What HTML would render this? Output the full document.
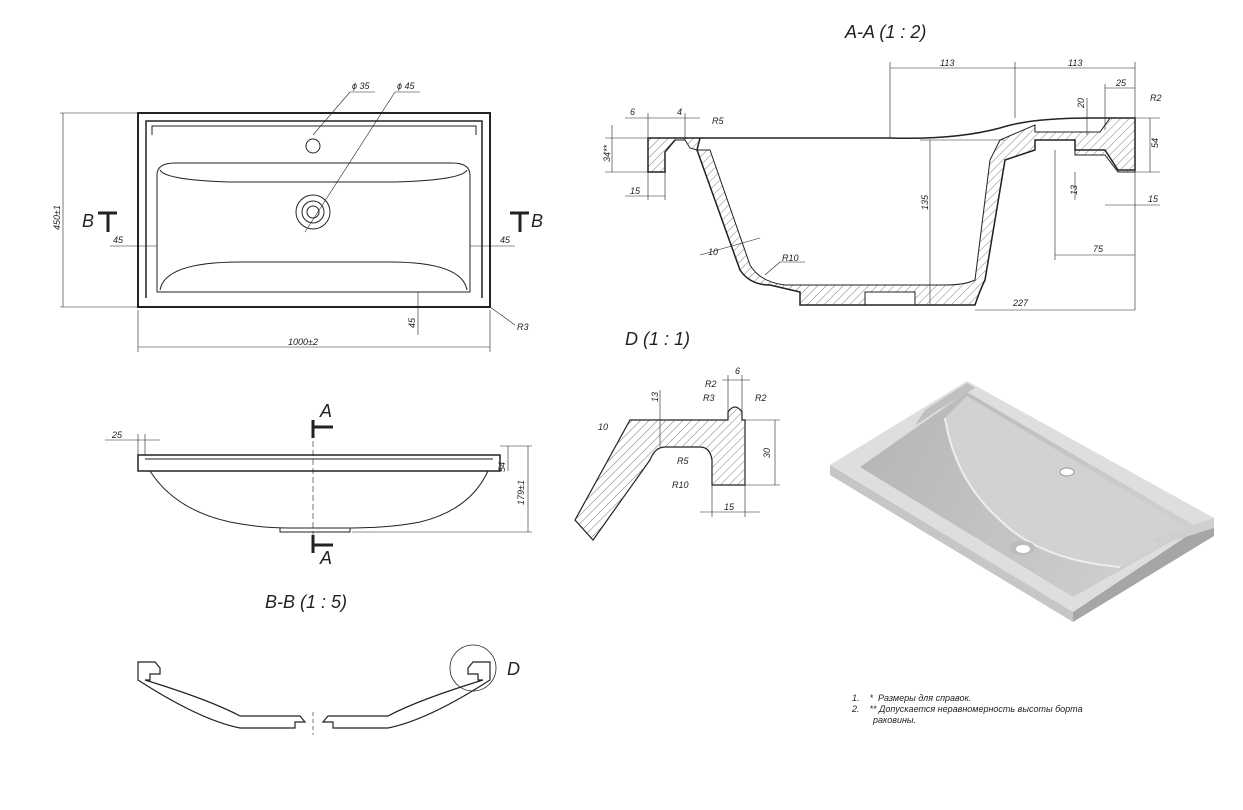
<!DOCTYPE html>
<html><head><meta charset="utf-8"><style>
html,body{margin:0;padding:0;background:#fff;}
svg{display:block;}
text{font-family:"Liberation Sans",sans-serif;font-style:italic;fill:#222;}
.t{font-size:9px;}
.h{font-size:18px;}
</style></head><body>
<svg width="1243" height="810" viewBox="0 0 1243 810" xmlns="http://www.w3.org/2000/svg">
<defs>
<pattern id="hat" width="6" height="6" patternUnits="userSpaceOnUse" patternTransform="rotate(45)">
<line x1="0" y1="0" x2="0" y2="6" stroke="#444" stroke-width="0.7"/></pattern>
<linearGradient id="bg" x1="0" y1="0" x2="1" y2="0.3">
<stop offset="0" stop-color="#b4b4b4"/><stop offset="1" stop-color="#cfcfcf"/></linearGradient>
</defs>
<g fill="none" stroke="#222" stroke-width="1">
<!-- TOP VIEW -->
<rect x="138" y="113" width="352" height="194" stroke-width="2"/>
<path d="M146 298 V121 H482 V298" stroke-width="1.5"/>
<path d="M152 135 V126 H476 V135" />
<path d="M157 292 V175 Q157 163 175 163 H452 Q470 163 470 175 V292 Z"/>
<path d="M160 290 Q165 262 240 262 H390 Q462 262 467 290"/>
<path d="M160 170 Q165 180 230 182 H395 Q462 180 467 170"/>
<circle cx="313" cy="146" r="7"/>
<circle cx="313" cy="212" r="17"/><circle cx="313" cy="212" r="11"/><circle cx="313" cy="212" r="6"/>
<line x1="313" y1="135" x2="350" y2="92" stroke-width="0.6"/><line x1="350" y1="92" x2="375" y2="92" stroke-width="0.6"/>
<line x1="305" y1="232" x2="395" y2="92" stroke-width="0.6"/><line x1="395" y1="92" x2="420" y2="92" stroke-width="0.6"/>
<g stroke-width="0.6">
<line x1="63" y1="113" x2="63" y2="307"/><line x1="60" y1="113" x2="138" y2="113"/><line x1="60" y1="307" x2="138" y2="307"/>
<line x1="138" y1="347" x2="490" y2="347"/><line x1="138" y1="310" x2="138" y2="352"/><line x1="490" y1="310" x2="490" y2="352"/>
<line x1="110" y1="246" x2="157" y2="246"/><line x1="470" y1="246" x2="515" y2="246"/>
<line x1="418" y1="292" x2="418" y2="335"/>
<line x1="490" y1="307" x2="515" y2="325"/>
</g>
<path d="M98 213 H117 M108 213 V232" stroke-width="3"/>
<path d="M510 213 H529 M520 213 V232" stroke-width="3"/>
<!-- SIDE VIEW -->
<rect x="138" y="455" width="362" height="16" stroke-width="1.5"/>
<line x1="145" y1="459" x2="493" y2="459"/>
<path d="M150 471 Q175 510 230 522 Q260 528 290 528 H350 Q390 528 420 522 Q470 510 488 471"/>
<path d="M280 528 V532 H350 V528"/>
<g stroke-width="0.6">
<line x1="508" y1="446" x2="508" y2="471"/><line x1="528" y1="446" x2="528" y2="532"/>
<line x1="500" y1="446" x2="532" y2="446"/><line x1="352" y1="532" x2="532" y2="532"/>
<line x1="105" y1="440" x2="160" y2="440"/><line x1="138" y1="434" x2="138" y2="455"/><line x1="145" y1="434" x2="145" y2="455"/>
<line x1="313" y1="432" x2="313" y2="545" stroke-dasharray="6 3"/>
</g>
<path d="M313 420 V438 M313 427 H333" stroke-width="3"/>
<path d="M313 535 V553 M313 545 H333" stroke-width="3"/>
<!-- B-B -->
<path d="M138 662 H155 L160 668 V674 H150 V680 H145 Q210 700 240 716 H300 L305 722 H295 V728 H240 Q200 720 138 680 Z" stroke-width="1.2"/>
<path d="M490 662 H473 L468 668 V674 H478 V680 H483 Q418 700 388 716 H328 L323 722 H333 V728 H388 Q428 720 490 680 Z" stroke-width="1.2"/>
<circle cx="473" cy="668" r="23" stroke-width="0.8"/>
<line x1="313" y1="712" x2="313" y2="735" stroke-dasharray="4 3" stroke-width="0.6"/>
<!-- A-A -->
<path d="M648 138 H700 L697 150 L740 270 Q750 285 770 285 L800 292 V305 H975 Q980 290 985 280 L1005 160 L1035 150 V140 H1075 V150 H1105 L1118 170 H1135 V118 H1090 Q1030 118 1000 128 Q955 140 890 138 H700 M648 138 V172 H665 V152 L675 140" stroke-width="1.5"/>
<path d="M648 138 H700 L697 150 L690 148 L685 140 L675 140 L665 152 V172 H648 Z" fill="url(#hat)"/>
<path d="M697 150 L740 270 Q750 285 770 285 L800 292 V305 H865 V292 H915 V305 H975 Q980 290 985 280 L1005 160 L1035 150 V140 H1075 V155 H1105 L1118 172 H1135 V118 H1110 L1100 132 H1035 V125 L1000 140 L990 160 L975 280 Q965 285 945 285 H785 Q760 282 750 265 L710 150 Z" fill="url(#hat)" stroke-width="1"/>
<g stroke-width="0.6">
<line x1="890" y1="68" x2="1135" y2="68"/><line x1="890" y1="62" x2="890" y2="138"/><line x1="1015" y1="62" x2="1015" y2="118"/><line x1="1135" y1="62" x2="1135" y2="118"/>
<line x1="1105" y1="88" x2="1135" y2="88"/><line x1="1105" y1="84" x2="1105" y2="130"/>
<line x1="1087" y1="98" x2="1087" y2="135"/>
<line x1="1150" y1="118" x2="1150" y2="172"/><line x1="1135" y1="118" x2="1160" y2="118"/><line x1="1135" y1="172" x2="1160" y2="172"/>
<line x1="1105" y1="205" x2="1160" y2="205"/><line x1="1135" y1="172" x2="1135" y2="310"/>
<line x1="1055" y1="255" x2="1135" y2="255"/><line x1="1055" y1="150" x2="1055" y2="260"/>
<line x1="930" y1="140" x2="930" y2="305"/><line x1="920" y1="140" x2="1005" y2="140"/>
<line x1="612" y1="125" x2="612" y2="172"/><line x1="605" y1="138" x2="648" y2="138"/><line x1="605" y1="172" x2="648" y2="172"/>
<line x1="625" y1="196" x2="665" y2="196"/><line x1="648" y1="172" x2="648" y2="200"/><line x1="665" y1="172" x2="665" y2="200"/>
<line x1="625" y1="118" x2="700" y2="118"/><line x1="648" y1="113" x2="648" y2="138"/><line x1="685" y1="113" x2="685" y2="140"/>
<line x1="700" y1="255" x2="760" y2="238"/>
<line x1="765" y1="275" x2="780" y2="262"/><line x1="780" y1="262" x2="805" y2="262"/>
<line x1="975" y1="310" x2="1135" y2="310"/><line x1="1075" y1="172" x2="1075" y2="200"/>
</g>
<!-- D -->
<path d="M575 520 L630 420 H728 V412 Q735 402 742 412 V420 H745 V485 H712 V460 Q710 447 700 447 H665 Q655 447 650 460 L593 540 Z" stroke-width="1.2"/>
<path d="M575 520 L630 420 H728 V412 Q735 402 742 412 V420 H745 V485 H712 V460 Q710 447 700 447 H665 Q655 447 650 460 L593 540 Z" fill="url(#hat)" stroke="none"/>
<g stroke-width="0.6">
<line x1="660" y1="390" x2="660" y2="447"/><line x1="775" y1="420" x2="775" y2="485"/><line x1="745" y1="420" x2="780" y2="420"/><line x1="745" y1="485" x2="780" y2="485"/>
<line x1="700" y1="512" x2="760" y2="512"/><line x1="712" y1="485" x2="712" y2="517"/><line x1="745" y1="485" x2="745" y2="517"/>
<line x1="728" y1="375" x2="728" y2="412"/><line x1="742" y1="375" x2="742" y2="412"/><line x1="722" y1="380" x2="750" y2="380"/>
</g>
</g>
<!-- 3D -->
<g stroke="none">
<path d="M830 465 L967 381 L1214 518 L1073 612 Z" fill="#dedede"/>
<path d="M830 465 V475 L1073 622 V612 Z" fill="#c6c6c6"/>
<path d="M1073 612 V622 L1214 536 V518 Z" fill="#a6a6a6"/>
<path d="M860 467 L967 392 L1197 527 L1073 597 Z" fill="url(#bg)"/>
<path d="M945 418 Q955 480 1000 520 Q1040 560 1120 567 L1190 530 L967 396 Z" fill="#d2d2d2"/>
<path d="M945 418 Q955 480 1000 520 Q1040 560 1120 567" fill="none" stroke="#eee" stroke-width="2"/>
<path d="M925 410 L967 383 L975 388 L935 412 Q925 420 915 425 Z" fill="#c0c0c0"/>
<path d="M1150 540 L1214 518 V528 L1160 545 Z" fill="#cfcfcf"/>
<ellipse cx="1067" cy="472" rx="7" ry="4" fill="#fff" stroke="#999"/>
<ellipse cx="1022" cy="548" rx="13" ry="7" fill="#bcbcbc"/>
<ellipse cx="1023" cy="549" rx="7" ry="4" fill="#fff"/>
</g>
<!-- texts -->
<text x="845" y="38" class="h">A-A (1 : 2)</text>
<text x="625" y="345" class="h">D (1 : 1)</text>
<text x="265" y="608" class="h">B-B (1 : 5)</text>
<text x="507" y="675" class="h">D</text>
<text x="320" y="417" class="h">A</text>
<text x="320" y="564" class="h">A</text>
<text x="82" y="227" class="h">B</text>
<text x="531" y="227" class="h">B</text>
<text class="t" x="352" y="89">ɸ 35</text><text class="t" x="397" y="89">ɸ 45</text>
<text class="t" x="60" y="230" transform="rotate(-90 60 230)">450±1</text>
<text class="t" x="288" y="345">1000±2</text>
<text class="t" x="113" y="243">45</text><text class="t" x="500" y="243">45</text>
<text class="t" x="415" y="328" transform="rotate(-90 415 328)">45</text>
<text class="t" x="517" y="330">R3</text>
<text class="t" x="112" y="438">25</text>
<text class="t" x="505" y="472" transform="rotate(-90 505 472)">54</text>
<text class="t" x="524" y="505" transform="rotate(-90 524 505)">179±1</text>
<text class="t" x="940" y="66">113</text><text class="t" x="1068" y="66">113</text>
<text class="t" x="1116" y="86">25</text><text class="t" x="1150" y="101">R2</text>
<text class="t" x="1084" y="108" transform="rotate(-90 1084 108)">20</text>
<text class="t" x="1158" y="148" transform="rotate(-90 1158 148)">54</text>
<text class="t" x="1077" y="195" transform="rotate(-90 1077 195)">13</text>
<text class="t" x="1148" y="202">15</text><text class="t" x="1093" y="252">75</text>
<text class="t" x="1013" y="306">227</text>
<text class="t" x="928" y="210" transform="rotate(-90 928 210)">135</text>
<text class="t" x="630" y="115">6</text><text class="t" x="677" y="115">4</text><text class="t" x="712" y="124">R5</text>
<text class="t" x="610" y="162" transform="rotate(-90 610 162)">34**</text>
<text class="t" x="630" y="194">15</text>
<text class="t" x="708" y="255">10</text><text class="t" x="782" y="261">R10</text>
<text class="t" x="735" y="374">6</text><text class="t" x="705" y="387">R2</text>
<text class="t" x="703" y="401">R3</text><text class="t" x="755" y="401">R2</text>
<text class="t" x="658" y="402" transform="rotate(-90 658 402)">13</text>
<text class="t" x="598" y="430">10</text>
<text class="t" x="677" y="464">R5</text><text class="t" x="672" y="488">R10</text>
<text class="t" x="770" y="458" transform="rotate(-90 770 458)">30</text>
<text class="t" x="724" y="510">15</text>
<text class="t" x="852" y="701">1.&#160;&#160;&#160;&#160;*&#160; Размеры для справок.</text>
<text class="t" x="852" y="712">2.&#160;&#160;&#160;&#160;** Допускается неравномерность высоты борта</text>
<text class="t" x="873" y="723">раковины.</text>
</svg>
</body></html>
